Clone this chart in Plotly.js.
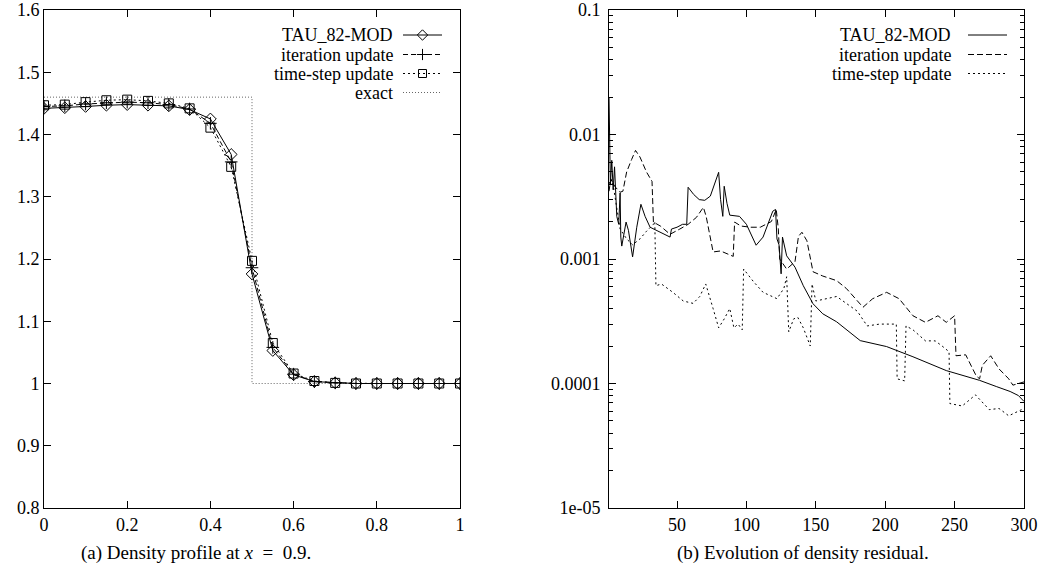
<!DOCTYPE html>
<html><head><meta charset="utf-8">
<script src="https://cdn.plot.ly/plotly-3.0.1.min.js"></script>
<style>html,body{margin:0;padding:0;background:#fff}#c{width:1043px;height:574px}</style>
</head><body><div id="c"></div>
<script>
// ---- Left panel: density profile at x = 0.9 ----
const posX = [0,0.05,0.1,0.15,0.2,0.25,0.3,0.35,0.4,0.45,0.5,0.55,0.6,0.65,0.7,0.75,0.8,0.85,0.9,0.95,1.0];
const tauProfile  = [1.442,1.443,1.445,1.447,1.448,1.447,1.446,1.440,1.425,1.368,1.176,1.053,1.014,1.003,1.001,1.0,1.0,1.0,1.0,1.0,1.0];
const iterProfile = [1.445,1.446,1.449,1.451,1.452,1.451,1.448,1.441,1.418,1.356,1.186,1.058,1.015,1.003,1.001,1.0,1.0,1.0,1.0,1.0,1.0];
const tsProfile   = [1.447,1.448,1.452,1.455,1.456,1.454,1.450,1.442,1.411,1.348,1.197,1.065,1.016,1.004,1.001,1.0,1.0,1.0,1.0,1.0,1.0];
const exactX = [0,0.5,0.5,1];
const exactY = [1.46,1.46,1.0,1.0];
const leftXTicks = [0,0.2,0.4,0.6,0.8,1];
const leftXLabels = ['0','0.2','0.4','0.6','0.8','1'];
const leftYTicks = [0.8,0.9,1.0,1.1,1.2,1.3,1.4,1.5,1.6];
const leftYLabels = ['0.8','0.9','1','1.1','1.2','1.3','1.4','1.5','1.6'];

// ---- Right panel: density residual ----
const tauIt  = [1,2,3,4,5,6.6,8,9,9.5,10.2,13.3,15,18,21,24,27,30.6,35,40,45,46,50,54,57,58,62,66,70,74,78,80,81.4,83,84,86,88,95,100,107,112,116,119,121,122,123.5,125,126,129,135,141,148,155,165,182,201,220,244,268,280,290,296,300];
const tauRes = [0.02,0.004,0.0062,0.0036,0.0055,0.0022,0.0019,0.0034,0.0015,0.00127,0.00198,0.0017,0.00104,0.0018,0.00275,0.0022,0.0018,0.0017,0.0016,0.0015,0.00174,0.0018,0.0019,0.0019,0.00377,0.0033,0.0030,0.00296,0.0032,0.0042,0.00497,0.0030,0.0022,0.00384,0.0028,0.00225,0.0022,0.0019,0.00129,0.0015,0.002,0.00242,0.0025,0.00145,0.0013,0.00076,0.0015,0.00106,0.00086,0.00061,0.000437,0.000363,0.000313,0.000221,0.000198,0.000164,0.000127,0.000106,0.0000946,0.0000863,0.000080,0.0000718];
const iterIt  = [1,2.3,5.4,9,11,13.7,17.3,20.1,23.3,28,32,33,38,45,52,58,64,69,71,74,76,81.4,86,90.5,91.5,96,103,110,118,121.5,123,124,129,135,137.5,140,143.6,148,155,165,172,184,191,201,210,220,229,238,244,250,251,258,265.6,268,270,276,282,289,292,296,300];
const iterRes = [0.0035,0.00437,0.0038,0.00344,0.0035,0.005,0.0063,0.00745,0.0066,0.005,0.0042,0.00198,0.00184,0.00158,0.00174,0.0019,0.00216,0.0026,0.0022,0.00145,0.00114,0.00116,0.0011,0.00105,0.00198,0.00184,0.0018,0.0018,0.002,0.0025,0.00174,0.001,0.00083,0.00095,0.00152,0.00164,0.0014,0.00079,0.00073,0.00067,0.00058,0.00041,0.00048,0.00054,0.00048,0.00035,0.00031,0.00035,0.00031,0.00035,0.000167,0.00017,0.000115,0.000109,0.00014,0.000167,0.000131,0.000109,0.000097,0.0001,0.000103];
const tsIt  = [1,2.3,4.2,6.6,9,13.7,18,23.3,28,33,34,34.8,38.8,47,54.5,61.6,66.4,70.7,73.6,76,80,84,88,91,94,97,98,105,112,119,122,127,129,130.5,134,137,141,146,147.3,150,165,180,187,196,208,208.6,214,215,220,229,236,241,246,246.6,255.5,265,275,282,289,296,300];
const tsRes = [0.004,0.0044,0.0038,0.0025,0.00174,0.00145,0.0013,0.00145,0.00167,0.0019,0.002,0.00061,0.00063,0.00054,0.00046,0.00044,0.0005,0.00063,0.0005,0.0004,0.00028,0.00033,0.0004,0.00028,0.0003,0.00027,0.00083,0.00066,0.00054,0.0005,0.00048,0.00058,0.00072,0.00026,0.00033,0.00034,0.00028,0.0002,0.00063,0.00046,0.0005,0.00038,0.00029,0.0003,0.0003,0.000109,0.000105,0.00029,0.00027,0.00022,0.00022,0.0002,0.00018,0.000069,0.000066,0.000081,0.0000617,0.000063,0.000055,0.00006,0.000063];
const rightXTicks = [50,100,150,200,250,300];
const rightYTicks = [0.1,0.01,0.001,0.0001,0.00001];
const rightYLabels = ['0.1','0.01','0.001','0.0001','1e-05'];

const seriesNames = ['TAU_82-MOD','iteration update','time-step update','exact'];
const captions = ['(a) Density profile at <i>x</i>&#8194;=&#8194;0.9.', '(b) Evolution of density residual.'];

// ---- styling ----
const FONT = "'Liberation Serif'";
const W = 1043, H = 574, T = 10, B = 66;
const L1 = 44, R1 = 460, L2 = 609, R2 = 1024;
const styles = [
  {dash:'solid', sym:'diamond-open'},
  {dash:'5px,3px', sym:'cross-thin-open'},
  {dash:'2px,3px', sym:'square-open'},
  {dash:'1px,2px', sym:null}
];
const rStyles = ['solid','6px,3px','2px,3px'];

function mk(x,y,i,xa,ya){
  const s = styles[i];
  const t = {x:x, y:y, xaxis:xa, yaxis:ya, type:'scatter', showlegend:false,
    mode: s.sym ? 'lines+markers' : 'lines',
    line:{color: i===3 ? '#666' : '#000', width:1, dash:s.dash}};
  if (s.sym) t.marker = {symbol:s.sym, size:9, color:'#000', line:{color:'#000', width:1}};
  return t;
}
const data = [
  mk(exactX, exactY, 3, 'x', 'y'),
  mk(posX, tsProfile, 2, 'x', 'y'),
  mk(posX, iterProfile, 1, 'x', 'y'),
  mk(posX, tauProfile, 0, 'x', 'y'),
];
[[tsIt,tsRes,2],[iterIt,iterRes,1],[tauIt,tauRes,0]].forEach(([x,y,i])=>{
  data.push({x:x,y:y,xaxis:'x2',yaxis:'y2',type:'scatter',mode:'lines',showlegend:false,
    line:{color:'#000',width:1,dash:rStyles[i]}});
});

// legend keys in a pixel-coordinate overlay (x3/y3)
const annotations = [];
function legend(rows, textRight, s0, s1, withMarkers){
  rows.forEach((ry,i)=>{
    const st = styles[i];
    data.push({x:[s0,s1], y:[ry,ry], xaxis:'x3', yaxis:'y3', type:'scatter', mode:'lines', showlegend:false,
      line:{color: i===3 ? '#666':'#000', width:1, dash: withMarkers ? st.dash : rStyles[i]}, hoverinfo:'skip'});
    if (withMarkers && st.sym) data.push({x:[(s0+s1)/2], y:[ry], xaxis:'x3', yaxis:'y3', type:'scatter', mode:'markers', showlegend:false,
      marker:{symbol:st.sym, size:8, color:'#000', line:{color:'#000',width:1}}, hoverinfo:'skip'});
    annotations.push({xref:'x3', yref:'y3', x:textRight, y:ry, text:seriesNames[i], showarrow:false,
      xanchor:'right', yanchor:'middle', font:{family:FONT, size:18, color:'#000'}});
  });
}
legend([35,54.5,73.5,92.5], 395, 403, 442, true);
legend([35,54.5,73.5], 953, 968, 1007, false);

const capY = (508-553)/498;
annotations.push({xref:'paper', yref:'paper', x:196/W, y:capY, text:captions[0], showarrow:false,
  xanchor:'center', yanchor:'middle', font:{family:FONT, size:19, color:'#000'}});
annotations.push({xref:'paper', yref:'paper', x:803/W, y:capY, text:captions[1], showarrow:false,
  xanchor:'center', yanchor:'middle', font:{family:FONT, size:19, color:'#000'}});

const minorVals = [];
for (let e=-5; e<-1; e++) for (let m=2; m<=9; m++) minorVals.push(m*Math.pow(10,e));

const axBase = {showline:true, linecolor:'#000', linewidth:1, mirror:'allticks', ticks:'inside', ticklen:7,
  tickcolor:'#000', showgrid:false, zeroline:false, tickfont:{family:FONT, size:18, color:'#000'}, fixedrange:true};

const layout = {
  width:W, height:H, margin:{l:0, r:0, t:T, b:B}, paper_bgcolor:'#fff', plot_bgcolor:'rgba(0,0,0,0)',
  showlegend:false, font:{family:FONT, color:'#000'},
  xaxis: Object.assign({}, axBase, {domain:[L1/W, R1/W], range:[0,1], anchor:'y', tickmode:'array', tickvals:leftXTicks, ticktext:leftXLabels}),
  yaxis: Object.assign({}, axBase, {domain:[0,1], range:[0.8,1.6], anchor:'x', tickmode:'array', tickvals:leftYTicks, ticktext:leftYLabels}),
  xaxis2: Object.assign({}, axBase, {domain:[L2/W, R2/W], range:[1,300], anchor:'y2', tickmode:'array', tickvals:rightXTicks, ticktext:rightXTicks.map(String)}),
  yaxis2: Object.assign({}, axBase, {domain:[0,1], type:'log', range:[-5,-1], anchor:'x2', tickmode:'array', tickvals:rightYTicks, ticktext:rightYLabels,
    ticklabelstandoff:4,
    minor:{tickmode:'array', tickvals:minorVals, ticks:'inside', ticklen:4, tickcolor:'#000', showgrid:false}}),
  xaxis3: {domain:[0,1], range:[0,W], anchor:'y3', visible:false, fixedrange:true},
  yaxis3: {domain:[0,1], range:[508,10], anchor:'x3', visible:false, fixedrange:true},
  annotations: annotations
};
Plotly.newPlot('c', data, layout, {staticPlot:true});
</script></body></html>
